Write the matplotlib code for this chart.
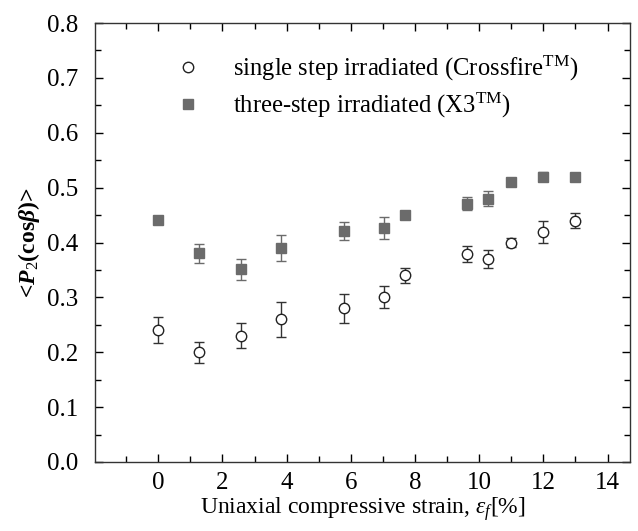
import matplotlib
matplotlib.use('Agg')
import matplotlib.pyplot as plt
from matplotlib.ticker import MultipleLocator, FormatStrFormatter

plt.rcParams['font.family'] = ['Liberation Serif', 'DejaVu Serif']
plt.rcParams['mathtext.fontset'] = 'custom'
plt.rcParams['mathtext.rm'] = 'Liberation Serif'
plt.rcParams['mathtext.it'] = 'Liberation Serif:italic'
plt.rcParams['mathtext.bf'] = 'Liberation Serif:bold:italic'

# strain [%]
strain = [0, 1.27, 2.57, 3.84, 5.78, 7.04, 7.69, 9.63, 10.26, 10.99, 12.0, 13.0]

# single step irradiated (Crossfire)
single = [0.240, 0.200, 0.230, 0.260, 0.280, 0.300, 0.340, 0.379, 0.370, 0.400, 0.420, 0.440]
single_err = [0.024, 0.019, 0.023, 0.032, 0.026, 0.020, 0.014, 0.015, 0.017, 0.008, 0.020, 0.014]

# three-step irradiated (X3)
three = [0.441, 0.380, 0.351, 0.390, 0.421, 0.426, 0.450, 0.471, 0.480, 0.510, 0.520, 0.520]
three_err = [0.005, 0.018, 0.019, 0.024, 0.016, 0.020, 0.004, 0.012, 0.013, 0.006, 0.008, 0.006]

fig = plt.figure(figsize=(6.38, 5.31), dpi=100)
ax = fig.add_axes([95/638, (531-462)/531, (630-95)/638, (462-23)/531])

ax.errorbar(strain, single, yerr=single_err, fmt='none', ecolor='#333333',
            elinewidth=1.0, capsize=3.5, capthick=1.0, zorder=2)
ax.plot(strain, single, 'o', ms=7.5, mfc='white', mec='#222222', mew=1.0, zorder=3,
        label='single step irradiated (Crossfire$^{\\mathrm{TM}}$)')
ax.errorbar(strain, three, yerr=three_err, fmt='none', ecolor='#6b6b6b',
            elinewidth=1.0, capsize=3.5, capthick=1.0, zorder=2)
ax.plot(strain, three, 's', ms=6.5, mfc='#6b6b6b', mec='#6b6b6b', zorder=3,
        label='three-step irradiated (X3$^{\\mathrm{TM}}$)')

ax.set_xlim(-1.97, 14.7)
ax.set_ylim(0, 0.8)
ax.xaxis.set_major_locator(MultipleLocator(2))
ax.xaxis.set_minor_locator(MultipleLocator(1))
ax.yaxis.set_major_locator(MultipleLocator(0.1))
ax.yaxis.set_minor_locator(MultipleLocator(0.05))
ax.yaxis.set_major_formatter(FormatStrFormatter('%.1f'))
ax.tick_params(which='both', direction='in', top=True, right=True, labelsize=18, width=1.0)
ax.tick_params(which='major', length=6)
ax.tick_params(which='minor', length=4)
ax.tick_params(axis='x', pad=7)
ax.tick_params(axis='y', pad=12)
for s in ax.spines.values():
    s.set_linewidth(1.0)
    s.set_color('#333333')

ax.set_xlabel('Uniaxial compressive strain, $\\varepsilon_f$[%]', fontsize=17, labelpad=1)
ax.set_ylabel('<$\\mathbf{P}_{2}$(cos$\\mathbf{\\beta}$)>', fontsize=17, fontweight='bold', labelpad=4)

ax.legend(loc='upper left', bbox_to_anchor=(0.133, 0.952), frameon=False, fontsize=17.7,
          handlelength=1.0, handletextpad=1.3, labelspacing=0.3, borderaxespad=0)

fig.savefig('out.png', dpi=100)
